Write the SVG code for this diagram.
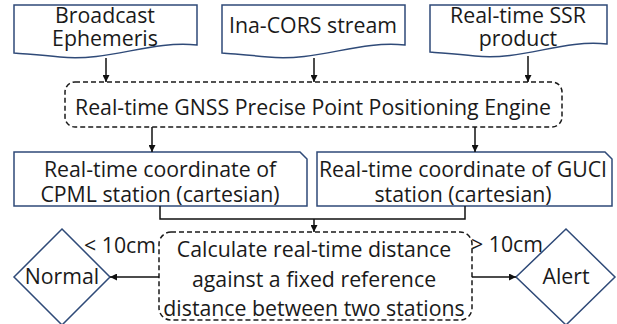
<svg xmlns="http://www.w3.org/2000/svg" width="617" height="324" viewBox="0 0 617 324">
<defs>
<style>
.box{fill:#fff;stroke:#2f4a78;stroke-width:1.5}
.dash{fill:#fff;stroke:#1a1a1a;stroke-width:1.5;stroke-dasharray:5 3}
.t{font-family:"Open Sans","Noto Sans",sans-serif;font-size:21.3px;fill:#1a1a1a;text-anchor:middle}
.c{fill:none;stroke:#111;stroke-width:1.5}
</style>
<marker id="ah" viewBox="0 0 10 10" refX="10" refY="5" markerWidth="7" markerHeight="7" markerUnits="userSpaceOnUse" orient="auto">
<path d="M0,0 L10,5 L0,10 z" fill="#111"/>
</marker>
</defs>
<rect width="617" height="324" fill="#fff"/>
<g id="broadcast">
<path class="box" d="M14,5 H197 V45 C150,40 110,62 60,57 C40,55 25,54 14,53 Z"/>
<text class="t" x="105" y="23">Broadcast</text>
<text class="t" x="105" y="46">Ephemeris</text>
</g>
<g id="inacors">
<path class="box" d="M222,5 H405 V45 C358,40 318,62 268,57 C248,55 233,54 222,53 Z"/>
<text class="t" x="313" y="33">Ina-CORS stream</text>
</g>
<g id="ssr">
<path class="box" d="M430,5 H607 V44 C562,39 523,61 475,56 C456,54 441,53 430,52 Z"/>
<text class="t" x="518" y="23">Real-time SSR</text>
<text class="t" x="518" y="46">product</text>
</g>
<g id="engine">
<rect class="dash" x="65" y="82" width="497" height="45" rx="10"/>
<text class="t" x="313" y="115">Real-time GNSS Precise Point Positioning Engine</text>
</g>
<g id="cpml">
<path class="box" d="M14,152 H300 L307,159 V206 H14 Z"/>
<text class="t" x="160" y="177">Real-time coordinate of</text>
<text class="t" x="160" y="202">CPML station (cartesian)</text>
</g>
<g id="guci">
<path class="box" d="M317,152 H605 L612,159 V206 H317 Z"/>
<text class="t" x="463" y="177">Real-time coordinate of GUCI</text>
<text class="t" x="463" y="202">station (cartesian)</text>
</g>
<g id="calc">
<rect class="dash" x="159" y="232" width="313" height="88" rx="12"/>
<text class="t" x="314" y="257">Calculate real-time distance</text>
<text class="t" x="314" y="287">against a fixed reference</text>
<text class="t" x="314" y="316">distance between two stations</text>
</g>
<g id="normal">
<path class="box" d="M62,229 L110,277 L62,325 L14,277 Z"/>
<text class="t" x="62" y="284">Normal</text>
</g>
<g id="alert">
<path class="box" d="M566,229 L615,277 L566,325 L516,277 Z"/>
<text class="t" x="566" y="284">Alert</text>
</g>
<g id="connectors">
<path class="c" d="M106,58 V82" marker-end="url(#ah)"/>
<path class="c" d="M314,58 V82" marker-end="url(#ah)"/>
<path class="c" d="M528,56 V82" marker-end="url(#ah)"/>
<path class="c" d="M152,127 V152" marker-end="url(#ah)"/>
<path class="c" d="M475,127 V152" marker-end="url(#ah)"/>
<path class="c" d="M160,206 V219 H465 V206"/>
<path class="c" d="M314,219 V232" marker-end="url(#ah)"/>
<path class="c" d="M159,277 H110" marker-end="url(#ah)"/>
<path class="c" d="M472,277 H516" marker-end="url(#ah)"/>
<text class="t" x="120" y="253">&lt; 10cm</text>
<text class="t" x="507" y="252">&gt; 10cm</text>
</g>
</svg>
